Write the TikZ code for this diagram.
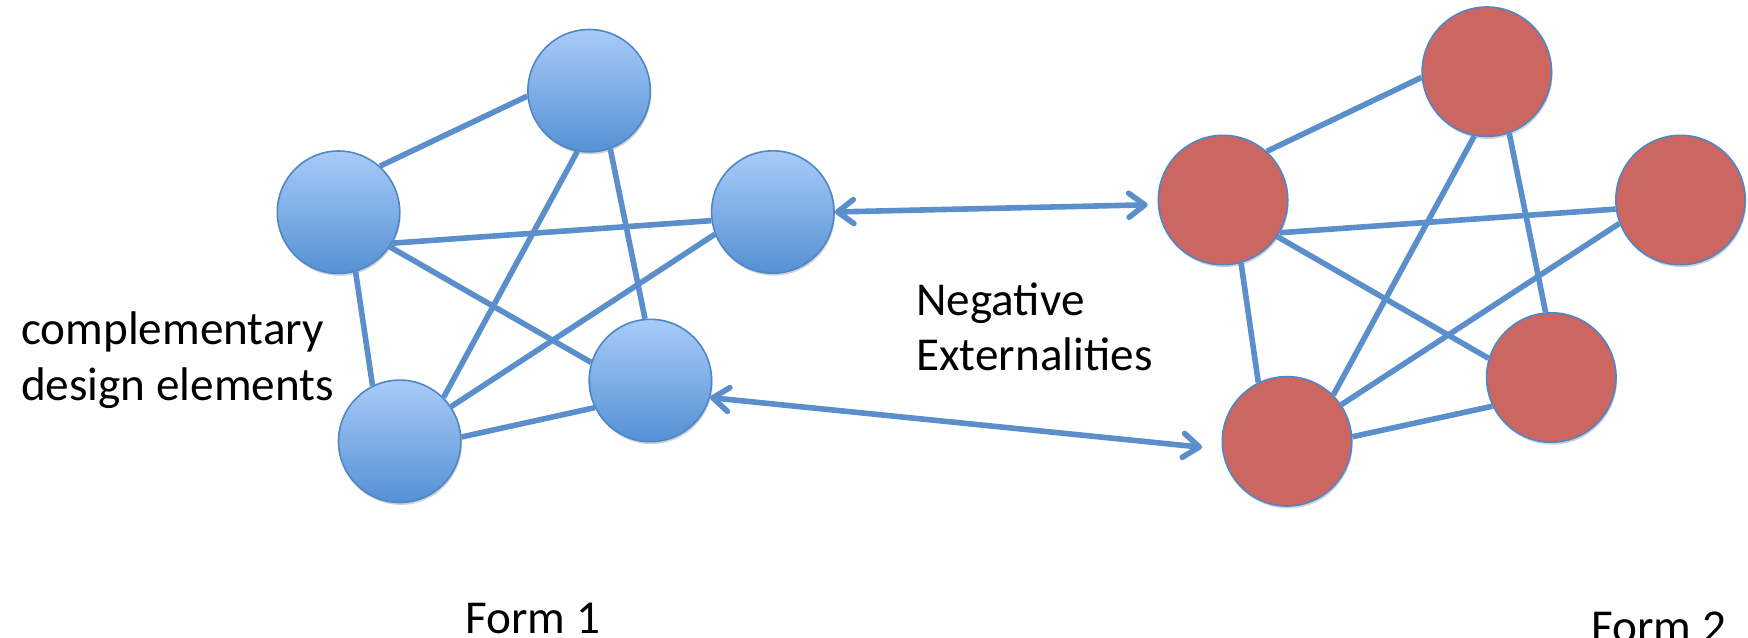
\documentclass[tikz,border=0pt]{standalone}
\usepackage{fontspec}
\setmainfont{Carlito}
\usetikzlibrary{arrows.meta,shapes.geometric,shadows}

\definecolor{linkblue}{HTML}{5A8FCB}
\definecolor{rimblue}{HTML}{4F86C6}
\definecolor{elemtop}{HTML}{A8CBF8}
\definecolor{elembot}{HTML}{5591D5}
\definecolor{elemred}{HTML}{CC6660}

\tikzset{
  softshadow/.style={drop shadow={shadow xshift=0.5pt, shadow yshift=-1.2pt,
    opacity=0.18, fill=black}},
  elemA/.style={circle, draw=rimblue, line width=0.8pt, minimum size=61.2pt,
    inner sep=0pt, top color=elemtop, bottom color=elembot, softshadow},
  elemB/.style={circle, draw=rimblue, line width=0.8pt, minimum size=64.7pt,
    inner sep=0pt, fill=elemred, softshadow},
  link/.style={draw=linkblue, line width=2.8pt},
  extarrow/.style={link, {Straight Barb[length=8pt,width=12pt,round]}-{Straight Barb[length=8pt,width=12pt,round]}},
  label/.style={font=\fontsize{23.6}{28}\selectfont, inner sep=0pt, anchor=base west}
}

\begin{document}
\begin{tikzpicture}[x=0.5pt,y=-0.5pt]
  \useasboundingbox (0,0) rectangle (1748,637);

  % Form 1: five complementary elements
  \node[elemA] (a1) at (589.1,90.7) {};
  \node[elemA] (b1) at (338.5,212.2) {};
  \node[elemA] (c1) at (772.8,212.0) {};
  \node[elemA] (d1) at (650.4,380.5) {};
  \node[elemA] (e1) at (399.7,441.3) {};

  % Form 2
  \node[elemB] (a2) at (1486.8,71.7) {};
  \node[elemB] (b2) at (1223.0,200.0) {};
  \node[elemB] (c2) at (1680.5,200.0) {};
  \node[elemB] (d2) at (1551.3,377.5) {};
  \node[elemB] (e2) at (1287.0,441.3) {};

  % links inside each form
  \foreach \f in {1,2}{
    \draw[link] (a\f.185) -- (b\f.48);
    \draw[link] (a\f.259) -- (e\f.45);
    \draw[link] (a\f.290) -- (d\f.95);
    \draw[link] (b\f.-30) -- (c\f.188);
    \draw[link] (b\f.-34) -- (d\f.163);
    \draw[link] (b\f.-74) -- (e\f.116);
    \draw[link] (c\f.201) -- (e\f.34);
    \draw[link] (e\f.4)   -- (d\f.206);
  }

  % externalities between the two forms
  \draw[extarrow, shorten >=5pt] (c1.east) -- (b2.184);
  \draw[extarrow, shorten >=10pt] (d1.-16) -- (e2.187);

  % texts
  \node[label] (comp1) at (20.7,344.5) {complementary};
  \node[label] (comp2) at (20.7,400.5) {design elements};
  \node[label] (neg1) at (916,315) {Negative};
  \node[label] (neg2) at (916,370) {Externalities};
  \node[label] (f1) at (465,633) {Form 1};
  \node[label] (f2) at (1591,642) {Form 2};
\end{tikzpicture}
\end{document}
